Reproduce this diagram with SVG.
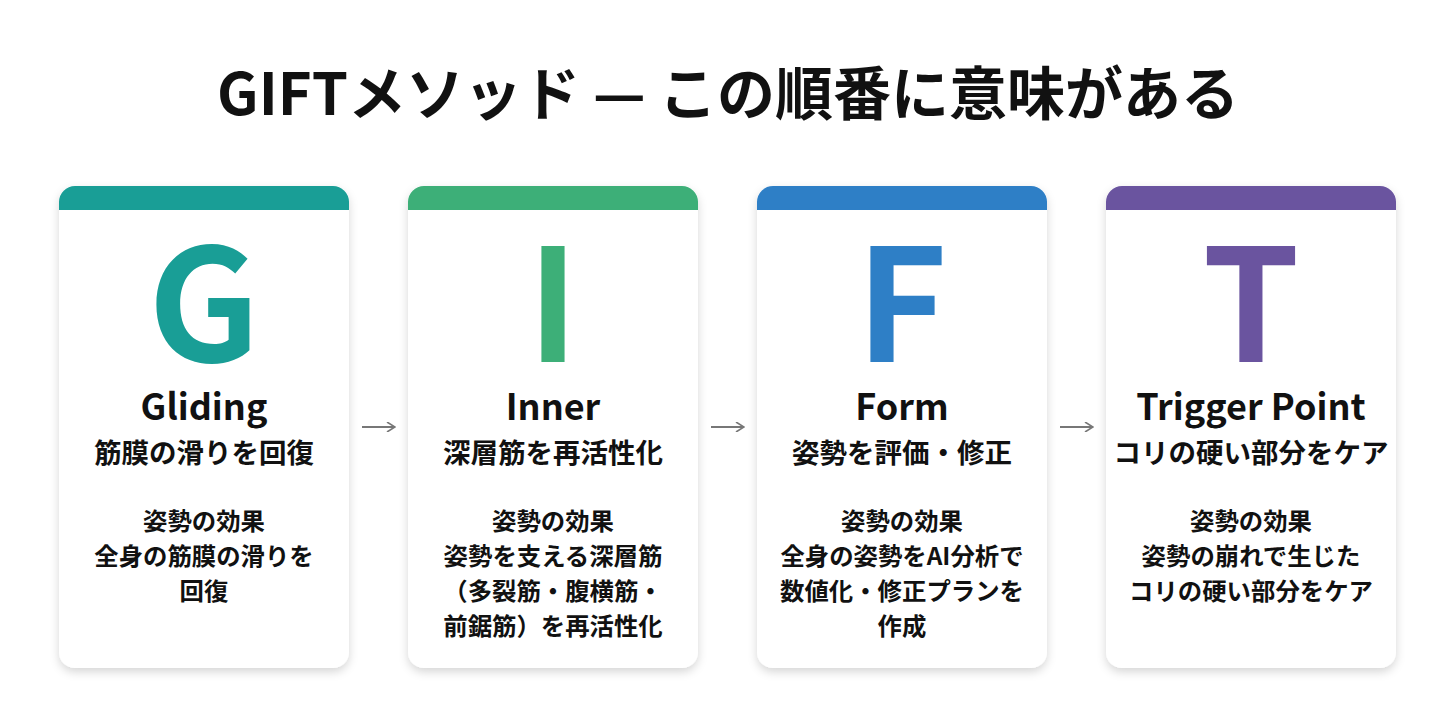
<svg xmlns="http://www.w3.org/2000/svg" width="1456" height="720" viewBox="0 0 1456 720">
<defs>
<filter id="sh" x="-10%" y="-10%" width="120%" height="120%">
<feDropShadow dx="0" dy="4" stdDeviation="5" flood-color="#000" flood-opacity="0.16"/>
</filter>
<marker id="ah" viewBox="0 0 10 10" refX="9" refY="5" markerWidth="10" markerHeight="10" markerUnits="userSpaceOnUse" orient="auto">
<path d="M1,0 L9,5 L1,10" fill="none" stroke="#777" stroke-width="1.6"/>
</marker>
<clipPath id="c1"><rect x="0" y="0" width="290" height="482" rx="16"/></clipPath>
</defs>
<style>
text{font-family:"Noto Sans CJK JP","Noto Sans",sans-serif;text-anchor:middle;fill:#111}
.t{font-size:58px;font-weight:700}
.big{font-size:156px;font-weight:700}
.name{font-size:36px;font-weight:700}
.sub{font-size:27.5px;font-weight:700}
.body{font-size:24.4px;font-weight:700}
.card{fill:#fff;filter:url(#sh)}
.conn{stroke:#777;stroke-width:1.8;fill:none}
</style>
<rect width="1456" height="720" fill="#fff"/>
<text class="t" x="728" y="115">GIFTメソッド — この順番に意味がある</text>

<g id="card-G" transform="translate(59,186)">
<rect class="card" width="290" height="482" rx="16"/>
<g clip-path="url(#c1)"><rect width="290" height="24" fill="#199e96"/></g>
<text class="big" x="145" y="176" style="fill:#199e96">G</text>
<text class="name" x="145" y="234">Gliding</text>
<text class="sub" x="145" y="277">筋膜の滑りを回復</text>
<text class="body" x="145" y="344">姿勢の効果</text>
<text class="body" x="145" y="379">全身の筋膜の滑りを</text>
<text class="body" x="145" y="414">回復</text>
</g>

<g id="card-I" transform="translate(408,186)">
<rect class="card" width="290" height="482" rx="16"/>
<g clip-path="url(#c1)"><rect width="290" height="24" fill="#3daf78"/></g>
<text class="big" x="145" y="176" style="fill:#3daf78">I</text>
<text class="name" x="145" y="234">Inner</text>
<text class="sub" x="145" y="277">深層筋を再活性化</text>
<text class="body" x="145" y="344">姿勢の効果</text>
<text class="body" x="145" y="379">姿勢を支える深層筋</text>
<text class="body" x="145" y="414">（多裂筋・腹横筋・</text>
<text class="body" x="145" y="449">前鋸筋）を再活性化</text>
</g>

<g id="card-F" transform="translate(757,186)">
<rect class="card" width="290" height="482" rx="16"/>
<g clip-path="url(#c1)"><rect width="290" height="24" fill="#2e7fc6"/></g>
<text class="big" x="145" y="176" style="fill:#2e7fc6">F</text>
<text class="name" x="145" y="234">Form</text>
<text class="sub" x="145" y="277">姿勢を評価・修正</text>
<text class="body" x="145" y="344">姿勢の効果</text>
<text class="body" x="145" y="379">全身の姿勢をAI分析で</text>
<text class="body" x="145" y="414">数値化・修正プランを</text>
<text class="body" x="145" y="449">作成</text>
</g>

<g id="card-T" transform="translate(1106,186)">
<rect class="card" width="290" height="482" rx="16"/>
<g clip-path="url(#c1)"><rect width="290" height="24" fill="#6a549f"/></g>
<text class="big" x="145" y="176" style="fill:#6a549f">T</text>
<text class="name" x="145" y="234">Trigger Point</text>
<text class="sub" x="145" y="277">コリの硬い部分をケア</text>
<text class="body" x="145" y="344">姿勢の効果</text>
<text class="body" x="145" y="379">姿勢の崩れで生じた</text>
<text class="body" x="145" y="414">コリの硬い部分をケア</text>
</g>

<g id="connectors">
<line class="conn" x1="362" y1="427" x2="395" y2="427" marker-end="url(#ah)"/>
<line class="conn" x1="711" y1="427" x2="744" y2="427" marker-end="url(#ah)"/>
<line class="conn" x1="1060" y1="427" x2="1093" y2="427" marker-end="url(#ah)"/>
</g>
</svg>
